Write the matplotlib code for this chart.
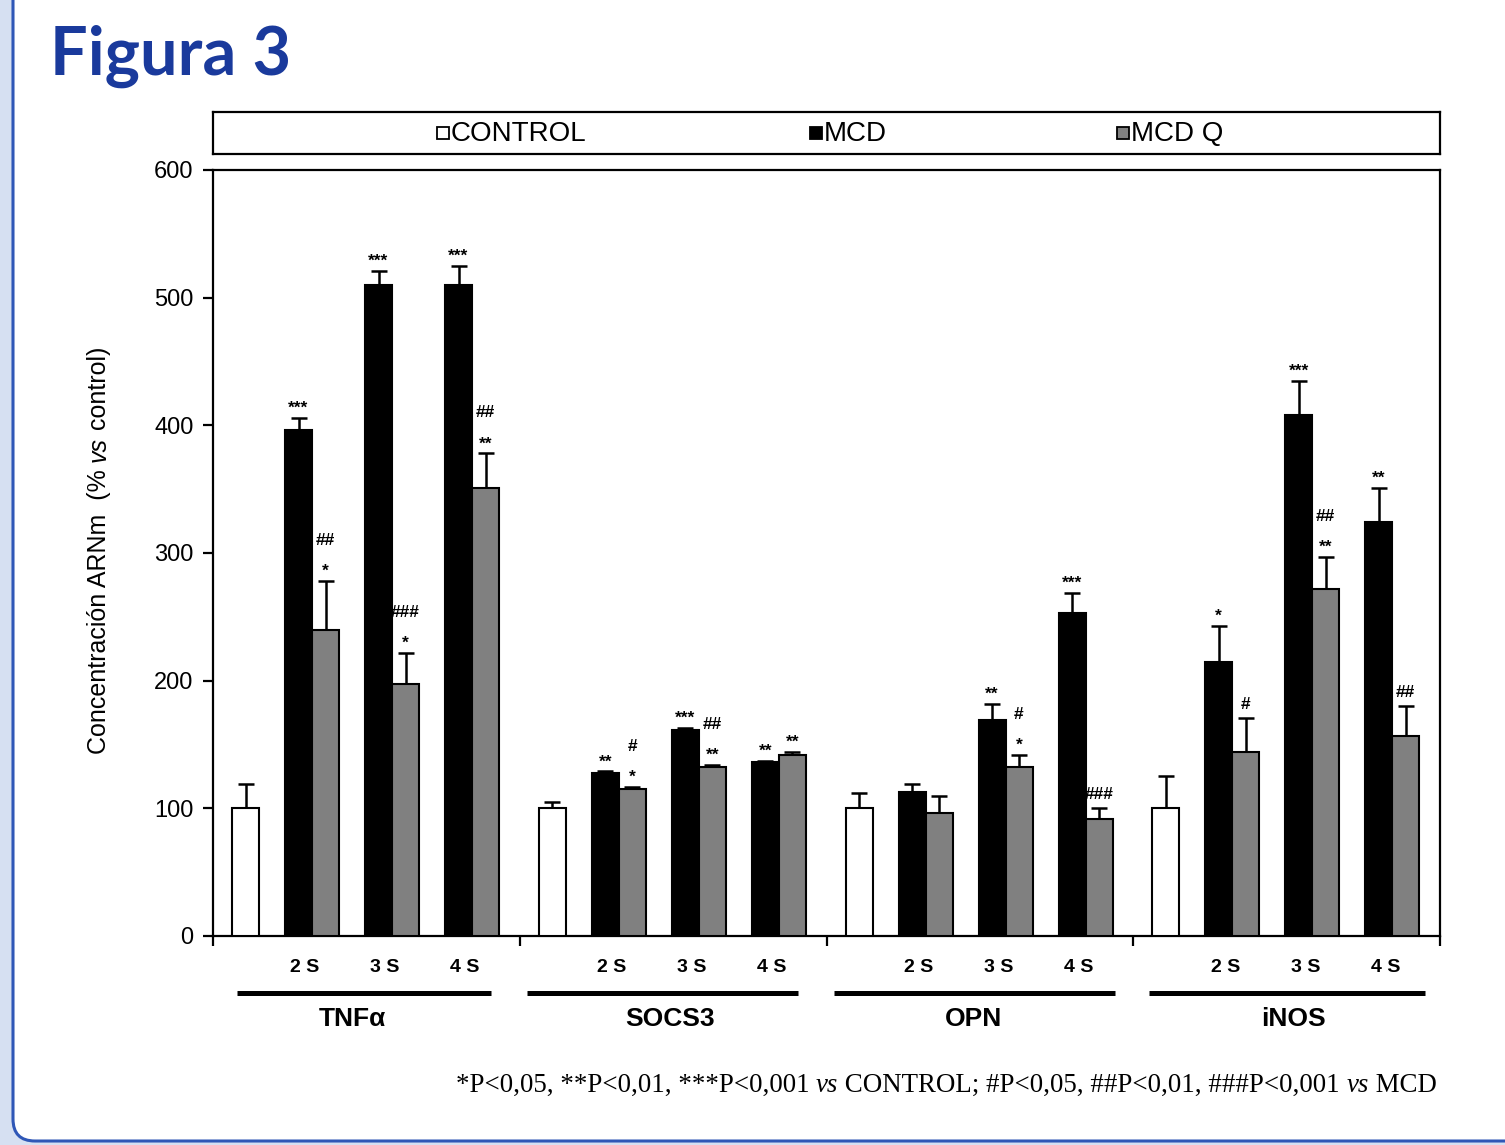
import numpy as np
import matplotlib
matplotlib.use('Agg')
import matplotlib.pyplot as plt
from matplotlib.patches import Rectangle, FancyBboxPatch
from matplotlib.transforms import IdentityTransform, blended_transform_factory

plt.rcParams['font.family'] = ['Liberation Sans', 'DejaVu Sans']

# --- data ---
genes = ['TNFα', 'SOCS3', 'OPN', 'iNOS']
weeks = ['2 S', '3 S', '4 S']
series = ['CONTROL', 'MCD', 'MCD Q']

control_mean = [100, 100, 100, 100]
control_err = [19, 5, 12, 25]

mcd_mean = [[396, 510, 510], [128, 161, 136], [113, 169, 253], [215, 408, 324]]
mcd_err = [[10, 11, 15], [1, 2, 1], [6, 13, 16], [28, 27, 27]]

mcdq_mean = [[240, 197, 351], [115, 132, 142], [96, 132, 92], [144, 272, 157]]
mcdq_err = [[38, 25, 27], [2, 2, 2], [14, 10, 8], [27, 25, 23]]

# significance marks, listed from the bottom line upwards
mcd_sig = [[['***'], ['***'], ['***']],
           [['**'], ['***'], ['**']],
           [[], ['**'], ['***']],
           [['*'], ['***'], ['**']]]
mcdq_sig = [[['*', '##'], ['*', '###'], ['**', '##']],
            [['*', '#'], ['**', '##'], ['**']],
            [[], ['*', '#'], ['###']],
            [['#'], ['**', '##'], ['##']]]

footnote = [('*P<0,05, **P<0,01, ***P<0,001 ', 'normal'), ('vs', 'italic'),
            (' CONTROL; #P<0,05, ##P<0,01, ###P<0,001 ', 'normal'), ('vs', 'italic'),
            (' MCD', 'normal')]
ylabel = [('Concentración ARNm  (% ', 'normal'), ('vs', 'italic'), (' control)', 'normal')]

# --- layout ---
W, H = 1505, 1145
fig = plt.figure(figsize=(W / 100, H / 100), dpi=100)
fig.patch.set_facecolor('#d6e0f2')
panel = FancyBboxPatch((13, 4), 1700, 1400, boxstyle='round,pad=0,rounding_size=22',
                       transform=IdentityTransform(), fc='white', ec='#2f57b7', lw=2.2, zorder=-10)
fig.add_artist(panel)


def fr(x0, y0, x1, y1):
    return [x0 / W, 1 - y1 / H, (x1 - x0) / W, (y1 - y0) / H]


ax = fig.add_axes(fr(213, 170, 1440, 936))
gw = 306.75  # group width in px
bw = 27 / gw
g = np.arange(len(genes))
xc = g + 32.5 / gw
xm = g[:, None] + (85.5 + 80 * np.arange(3))[None, :] / gw
xq = xm + bw

cm = np.array(mcd_mean, float)
ce = np.array(mcd_err, float)
qm = np.array(mcdq_mean, float)
qe = np.array(mcdq_err, float)

ax.bar(xc, control_mean, width=bw, color='white', edgecolor='black', lw=1.5, zorder=3)
ax.bar(xm.ravel(), cm.ravel(), width=bw, color='black', edgecolor='black', lw=1.5, zorder=3)
ax.bar(xq.ravel(), qm.ravel(), width=bw, color='#808080', edgecolor='black', lw=1.5, zorder=3)

eb = dict(fmt='none', ecolor='black', elinewidth=1.8, capsize=5.8, capthick=1.8, zorder=2)
ax.errorbar(xc, control_mean, yerr=[np.zeros(4), control_err], **eb)
ax.errorbar(xm.ravel(), cm.ravel(), yerr=[np.zeros(cm.size), ce.ravel()], **eb)
ax.errorbar(xq.ravel(), qm.ravel(), yerr=[np.zeros(qm.size), qe.ravel()], **eb)

px = 72 / 100


def mark(x, top, labels):
    for k, s in enumerate(labels):
        off = 15 + 27 * k - (10 if s[0] == '*' else 6)
        ax.annotate(s, (x, top), xytext=(0, off * px), textcoords='offset points',
                    ha='center', va='baseline', fontsize=12.5, fontweight='bold')


for i in range(len(genes)):
    for j in range(len(weeks)):
        mark(xm[i, j], cm[i, j] + ce[i, j], mcd_sig[i][j])
        mark(xq[i, j], qm[i, j] + qe[i, j], mcdq_sig[i][j])

ax.set_xlim(0, len(genes))
ax.set_ylim(0, 600)
ax.set_yticks(np.arange(0, 601, 100))
ax.set_xticks(np.arange(len(genes) + 1))
ax.set_xticklabels([])
ax.tick_params(direction='out', length=7, width=1.6, labelsize=17, pad=7)
for sp in ax.spines.values():
    sp.set_linewidth(1.6)

trans = blended_transform_factory(ax.transData, ax.transAxes)
for i in range(len(genes)):
    for j, wk in enumerate(weeks):
        ax.text(xm[i, j] + bw / 2 - 7 / gw, (936 - 967) / 766, wk, transform=trans,
                ha='center', va='center', fontsize=14, fontweight='bold')

line_px = [(237, 491), (527, 798), (834, 1115), (1149, 1425)]
label_px = [352, 670, 973, 1293]
for name, (a, b), c in zip(genes, line_px, label_px):
    x0, x1 = (a - 213) / gw, (b - 213) / gw
    ax.plot([x0, x1], [(936 - 993) / 766] * 2, color='black', lw=3.6,
            transform=trans, clip_on=False, solid_capstyle='butt')
    ax.text((c - 213) / gw, (936 - 1019) / 766, name, transform=trans,
            ha='center', va='center', fontsize=19, fontweight='bold')

# legend box
lg = fig.add_axes(fr(213, 112, 1440, 154))
lg.set_xlim(213, 1440)
lg.set_ylim(154, 112)
lg.set_xticks([])
lg.set_yticks([])
for sp in lg.spines.values():
    sp.set_linewidth(1.6)
leg_x = [437, 810, 1117]
leg_fc = ['white', 'black', '#808080']
for x, fc, name in zip(leg_x, leg_fc, series):
    lg.add_patch(Rectangle((x, 127), 12, 12, fc=fc, ec='black', lw=1.3))
    lg.text(x + 14, 134, name, ha='left', va='center', fontsize=20)

# title
fig.text(50 / W, 1 - 75 / H, 'Figura 3', fontsize=48, fontweight='bold', family='Lato',
         color='#1a3a9c', ha='left', va='baseline')

# mixed-style texts
renderer = fig.canvas.get_renderer()


def run_widths(runs, **kw):
    out = []
    for s, st in runs:
        t1 = fig.text(0, 0, s + 'l', fontstyle=st, **kw)
        t2 = fig.text(0, 0, 'l', fontstyle=st, **kw)
        out.append(t1.get_window_extent(renderer).width - t2.get_window_extent(renderer).width)
        t1.remove()
        t2.remove()
    return out


def draw_runs(x, y, runs, vertical=False, **kw):
    ws = run_widths(runs, **kw)
    pos = 0
    for (s, st), w in zip(runs, ws):
        if vertical:
            fig.text(x, y + pos, s, rotation=90, rotation_mode='anchor', ha='left', va='baseline',
                     fontstyle=st, transform=IdentityTransform(), **kw)
        else:
            fig.text(x + pos, y, s, ha='left', va='baseline', fontstyle=st,
                     transform=IdentityTransform(), **kw)
        pos += w
    return sum(ws)


yl_kw = dict(fontsize=18)
tot = sum(run_widths(ylabel, **yl_kw))
draw_runs(106, H - 550 - tot / 2, ylabel, vertical=True, **yl_kw)

fn_kw = dict(fontsize=19.4, family='Liberation Serif')
tot = sum(run_widths(footnote, **fn_kw))
draw_runs(1437 - tot, H - 1092, footnote, **fn_kw)

fig.savefig('out.png', dpi=100, facecolor=fig.get_facecolor())
